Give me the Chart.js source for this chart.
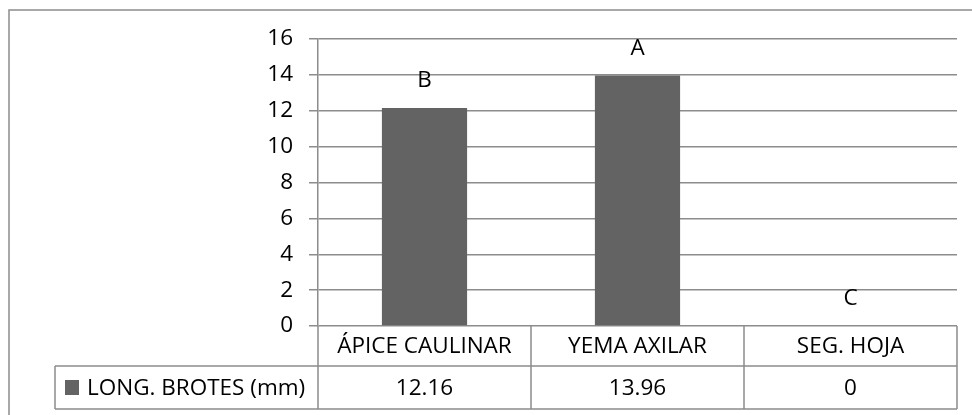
<!DOCTYPE html>
<html>
<head>
<meta charset="utf-8">
<script src="https://cdn.jsdelivr.net/npm/chart.js@4/dist/chart.umd.min.js"></script>
<style>
  html, body { margin: 0; padding: 0; background: #fff; }
  canvas { display: block; }
</style>
</head>
<body>
<canvas id="brotes-chart" width="972" height="415"></canvas>
<script>
// data
var categories = ["ÁPICE CAULINAR", "YEMA AXILAR", "SEG. HOJA"];
var seriesName = "LONG. BROTES (mm)";
var brotesValues = [12.16, 13.96, 0];
var tableValues = ["12.16", "13.96", "0"];
var letters = ["B", "A", "C"];

var gridGray = "#8c8c8c";
var barGray = "#636363";
var font = "Open Sans";
var fontSize = 22.5;

// table under the plot + letters above bars + outer frame
var tablePlugin = {
  id: "dataTable",
  afterDraw: function (chart) {
    var ctx = chart.ctx;
    var x = chart.scales.x;
    var area = chart.chartArea;
    var top = area.bottom;
    var row1 = top + 40;
    var row2 = row1 + 43;
    var legendLeft = 55;

    ctx.save();
    ctx.strokeStyle = gridGray;
    ctx.lineWidth = 1.5;

    // outer frame
    ctx.strokeRect(9, 10, 980, 420);

    // horizontal lines
    ctx.beginPath();
    ctx.moveTo(area.left, row1); ctx.lineTo(area.right, row1);
    ctx.moveTo(legendLeft, row1); ctx.lineTo(area.left, row1);
    ctx.moveTo(legendLeft, row2); ctx.lineTo(area.right, row2);
    // vertical lines
    ctx.moveTo(legendLeft, row1); ctx.lineTo(legendLeft, row2);
    ctx.moveTo(area.left, top); ctx.lineTo(area.left, row2);
    for (var i = 0; i < categories.length; i++) {
      var b = x.getPixelForValue(i + 0.5);
      ctx.moveTo(b, top); ctx.lineTo(b, row2);
    }
    ctx.stroke();

    ctx.fillStyle = "#000";
    ctx.font = fontSize + "px '" + font + "'";
    ctx.textAlign = "center";
    ctx.textBaseline = "middle";
    for (var j = 0; j < categories.length; j++) {
      var cx = x.getPixelForValue(j);
      ctx.fillText(categories[j], cx, (top + row1) / 2 + 1);
      ctx.fillText(tableValues[j], cx, (row1 + row2) / 2 + 1);
    }

    // legend key
    ctx.fillStyle = barGray;
    ctx.fillRect(legendLeft + 10, row1 + 14, 14, 15);
    ctx.fillStyle = "#000";
    ctx.textAlign = "left";
    ctx.fillText(seriesName, legendLeft + 32, (row1 + row2) / 2 + 1);

    // letters above bars
    ctx.textAlign = "center";
    var meta = chart.getDatasetMeta(0);
    meta.data.forEach(function (bar, k) {
      ctx.fillText(letters[k], bar.x, bar.y - 27);
    });
    ctx.restore();
  }
};

var ctx = document.getElementById("brotes-chart").getContext("2d");
new Chart(ctx, {
  type: "bar",
  data: {
    labels: categories,
    datasets: [
      {
        label: seriesName,
        data: brotesValues,
        backgroundColor: barGray,
        borderWidth: 0,
        barPercentage: 0.4,
        categoryPercentage: 1,
      },
    ],
  },
  options: {
    responsive: false,
    animation: false,
    layout: {
      padding: { top: 39, right: 15, bottom: 89, left: 0 },
    },
    plugins: {
      legend: { display: false },
      tooltip: { enabled: false },
    },
    scales: {
      x: {
        display: false,
      },
      y: {
        min: 0,
        max: 16,
        afterFit: function (scale) {
          scale.width = 318;
        },
        border: { display: true, color: gridGray, width: 1.5 },
        grid: {
          color: gridGray,
          lineWidth: 1.5,
          drawTicks: true,
          tickLength: 9,
        },
        ticks: {
          stepSize: 2,
          padding: 16,
          color: "#000",
          font: { size: fontSize, family: font },
        },
      },
    },
  },
  plugins: [tablePlugin],
});
</script>
</body>
</html>
